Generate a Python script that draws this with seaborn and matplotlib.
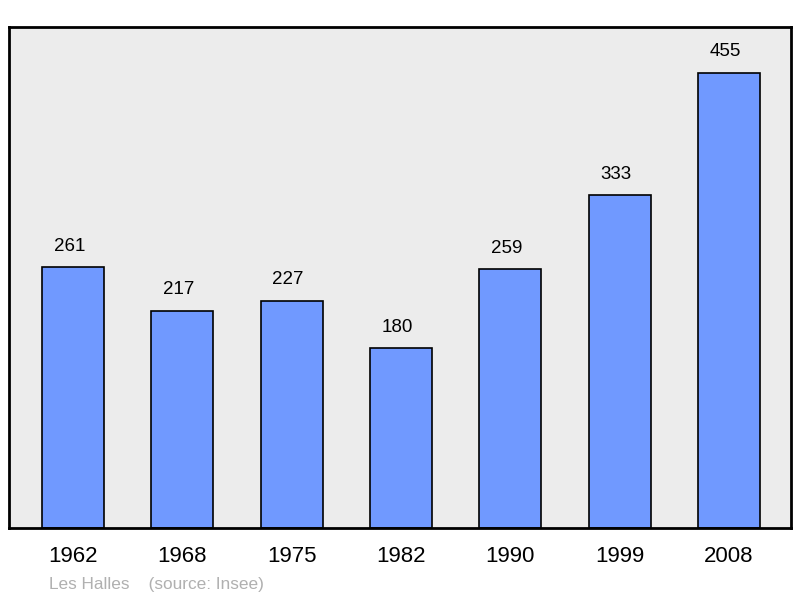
import pandas as pd
import matplotlib
matplotlib.use("Agg")
import matplotlib.pyplot as plt
import matplotlib.transforms as mtransforms
import seaborn as sns

# Population of Les Halles (source: Insee)
years = ["1962", "1968", "1975", "1982", "1990", "1999", "2008"]
population = [261, 217, 227, 180, 259, 333, 455]

df = pd.DataFrame({"year": years, "pop": population})

sns.set_style("white")
plt.rcParams["font.family"] = ["Liberation Sans", "DejaVu Sans"]

fig = plt.figure(figsize=(8, 5.98), dpi=100)
ax = fig.add_axes([9 / 800, 70 / 598, 782 / 800, 501 / 598])
ax.set_facecolor("#ececec")

sns.barplot(data=df, x="year", y="pop", color="#7099ff", saturation=1,
            width=0.567, edgecolor="black", linewidth=1.2, ax=ax)

# value labels above bars, nudged a little to the left like the original
lab_tr = mtransforms.offset_copy(ax.transData, fig=fig, x=-3.5, y=0, units="dots")
for i, v in enumerate(population):
    ax.text(i, v + 21, str(v), ha="center", va="center", fontsize=13.5,
            color="black", transform=lab_tr)

ax.set_xlim(-0.585, 6.567)
ax.set_ylim(0, 501)
ax.set_yticks([])
ax.set_xlabel("")
ax.set_ylabel("")
ax.tick_params(axis="x", length=0, pad=13, labelsize=16, labelcolor="black")

for s in ax.spines.values():
    s.set_visible(True)
    s.set_color("black")
    s.set_linewidth(2)

fig.text(49 / 800, 1 - 584 / 598, "Les Halles    (source: Insee)", fontsize=12.4,
         color="#b0b0b0", ha="left", va="center")

fig.savefig("out.png", dpi=100)
plt.close(fig)
